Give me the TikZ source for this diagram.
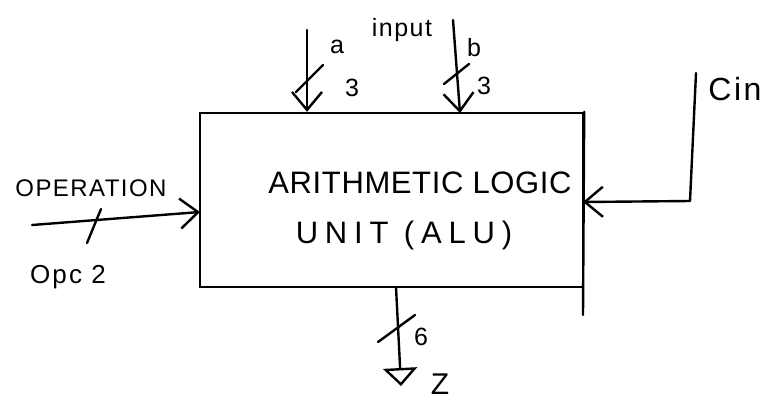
\documentclass[tikz,border=0pt]{standalone}
\usepackage{fontspec}
\setmainfont{Liberation Sans}
\usetikzlibrary{arrows.meta,calc}
\newcommand{\fsz}[2]{\fontsize{#1}{#1}\selectfont\addfontfeature{LetterSpace=#2}}
\begin{document}
\begin{tikzpicture}[x=1pt,y=-1pt,
  wire/.style={line width=2.4pt,line cap=round,line join=round},
  vhead/.style={wire,-{Straight Barb[length=18pt,width=30pt,line width=2.4pt]}},
  thead/.style={wire,-{Triangle[open,length=18pt,width=34pt,line width=2.4pt]}},
  buslabel/.style={font=\fsz{25}{0},inner sep=0pt},
  alubox/.style={draw,line width=2.4pt,minimum width=383pt,minimum height=174pt,inner sep=0pt}
]
\useasboundingbox (0,0) rectangle (768,405);
\fill[white] (0,0) rectangle (768,405);
% ALU box
\node[alubox] (alu) at (391.5,200) {};
\node[font=\fsz{31}{2},inner sep=0pt] (t1) at (420,183) {ARITHMETIC LOGIC};
\node[font=\fsz{31}{22},inner sep=0pt] (t2) at (404,235) {UNIT (ALU)};
\coordinate (rext) at (583,315);
\draw[wire] (alu.north east) -- (rext);
% input a
\coordinate (a0) at (307,30);
\draw[vhead] (a0) -- (a0 |- alu.north);
\coordinate (as1) at (296,92); \coordinate (as2) at (323,65);
\draw[wire] (as1) -- (as2);
\node[buslabel] (la) at (337,47) {a};
\node[buslabel] (la3) at (352,88) {3};
% input b
\coordinate (b0) at (453,20);
\coordinate (b1) at (460,113);
\draw[vhead] (b0) -- (b1);
\coordinate (bs1) at (444,84); \coordinate (bs2) at (469,64);
\draw[wire] (bs1) -- (bs2);
\node[buslabel] (lb) at (474,48) {b};
\node[buslabel] (lb3) at (484,86) {3};
\node[font=\fsz{25}{6},inner sep=0pt] (inp) at (402,30) {input};
% Cin
\coordinate (c0) at (696,73);
\coordinate (c1) at (690,201);
\coordinate (c2) at (583,202);
\draw[vhead] (c0) -- (c1) -- (c2);
\node[font=\fsz{32}{8},inner sep=0pt] (cin) at (735,89) {Cin};
% operation
\coordinate (o0) at (32,225);
\coordinate (o1) at (200,212);
\draw[vhead] (o0) -- (o1);
\coordinate (os1) at (87,243); \coordinate (os2) at (101,209);
\draw[wire] (os1) -- (os2);
\node[font=\fsz{24}{6},inner sep=0pt] (op) at (91,188) {OPERATION};
\node[font=\fsz{26}{8},inner sep=0pt] (opc) at (68,277) {Opc 2};
% output Z
\coordinate (z0) at (396,287);
\coordinate (z1) at (401,386);
\draw[thead] (z0) -- (z1);
\coordinate (zs1) at (378,342); \coordinate (zs2) at (415,315);
\draw[wire] (zs1) -- (zs2);
\node[buslabel] (l6) at (421,337) {6};
\node[font=\fsz{30}{0},inner sep=0pt] (lz) at (440,384) {Z};
\end{tikzpicture}
\end{document}
